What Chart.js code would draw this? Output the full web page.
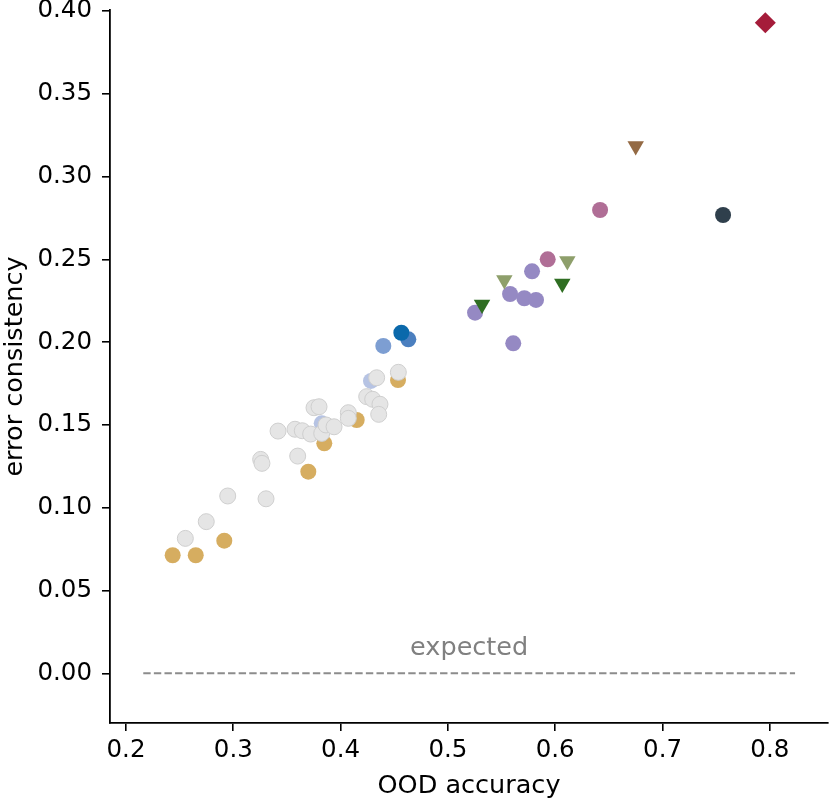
<!DOCTYPE html>
<html>
<head>
<meta charset="utf-8">
<script src="https://cdn.jsdelivr.net/npm/chart.js@4.4.1/dist/chart.umd.min.js"></script>
<style>
  html, body { margin: 0; padding: 0; background: #fff; overflow: hidden; }
  #chart { display: block; }
</style>
</head>
<body>
<canvas id="chart" width="830" height="802"></canvas>
<script>
// tick values on both axes
var xTicks = [0.2, 0.3, 0.4, 0.5, 0.6, 0.7, 0.8];
var yTicks = [0.00, 0.05, 0.10, 0.15, 0.20, 0.25, 0.30, 0.35, 0.40];

// model groups: OOD accuracy (x) and error consistency (y)
var goldX = [0.2435, 0.2650, 0.2916, 0.3699, 0.3848, 0.4150, 0.4535];
var goldY = [0.0713, 0.0713, 0.0801, 0.1218, 0.1389, 0.1530, 0.1771];

var grayX = [0.2553, 0.2748, 0.2948, 0.3305, 0.3255, 0.3267, 0.3417, 0.3600, 0.3575, 0.3643, 0.3721, 0.3824,
             0.3864, 0.3939, 0.3752, 0.3799, 0.4072, 0.4072, 0.4243, 0.4299, 0.4367, 0.4355, 0.4336, 0.4538];
var grayY = [0.0815, 0.0916, 0.1071, 0.1054, 0.1292, 0.1268, 0.1463, 0.1312, 0.1474, 0.1465, 0.1445, 0.1449,
             0.1500, 0.1489, 0.1604, 0.1610, 0.1574, 0.1540, 0.1671, 0.1655, 0.1625, 0.1564, 0.1785, 0.1818];

var paleBlueX = [0.4283, 0.3824];
var paleBlueY = [0.1766, 0.1510];
var lightBlueX = [0.4398];
var lightBlueY = [0.1977];
var midBlueX = [0.4631];
var midBlueY = [0.2017];
var darkBlueX = [0.4566];
var darkBlueY = [0.2057];

var purpleX = [0.5253, 0.5579, 0.5712, 0.5821, 0.5784, 0.5609];
var purpleY = [0.2178, 0.2291, 0.2265, 0.2255, 0.2428, 0.1993];
var pinkX = [0.5930, 0.6418];
var pinkY = [0.2500, 0.2798];

var oliveX = [0.6113, 0.5526];
var oliveY = [0.2490, 0.2375];
var greenX = [0.6066, 0.5318];
var greenY = [0.2355, 0.2228];
var brownX = [0.6750];
var brownY = [0.3185];

var slateX = [0.7564];
var slateY = [0.2768];
var humanX = [0.7958];
var humanY = [0.3929];

// "expected" reference line
var expectedX = [0.2161, 0.8235];
var expectedY = [0.0, 0.0];
var expectedText = 'expected';

function pts(xs, ys) {
    var out = [];
    for (var i = 0; i < xs.length; i++) out.push({ x: xs[i], y: ys[i] });
    return out;
}

function group(xs, ys, color, style, radius, edge) {
    return {
        data: pts(xs, ys),
        backgroundColor: color,
        borderColor: edge || color,
        borderWidth: edge ? 1 : 0,
        pointStyle: style,
        pointRadius: radius,
        pointRotation: style === 'triangle' ? 180 : 0,
        pointHoverRadius: radius
    };
}

var FONT = "'DejaVu Sans', sans-serif";

// first dataset is drawn on top
var datasets = [
    group(humanX, humanY, '#a51c3a', 'rectRot', 10.5),
    group(slateX, slateY, '#2f3f4c', 'circle', 8),
    group(brownX, brownY, '#946a44', 'triangle', 9.5),
    group(greenX, greenY, '#2f6e22', 'triangle', 9.5),
    group(oliveX, oliveY, '#8e9f6b', 'triangle', 9.5),
    group(pinkX, pinkY, '#b06e96', 'circle', 8),
    group(purpleX, purpleY, '#9589c3', 'circle', 8),
    group(darkBlueX, darkBlueY, '#0b69ab', 'circle', 8),
    group(midBlueX, midBlueY, '#4b7fbf', 'circle', 8),
    group(lightBlueX, lightBlueY, '#7d9ed2', 'circle', 8),
    group(grayX, grayY, '#e5e5e5', 'circle', 8, '#cfcfcf'),
    group(paleBlueX, paleBlueY, '#b6c3e3', 'circle', 8),
    group(goldX, goldY, '#d6ad60', 'circle', 8),
    {
        type: 'line',
        data: pts(expectedX, expectedY),
        borderColor: '#8c8c8c',
        borderWidth: 2,
        borderDash: [7.4, 3.2],
        pointRadius: 0,
        fill: false
    }
];

new Chart(document.getElementById('chart'), {
    type: 'scatter',
    data: { datasets: datasets },
    options: {
        responsive: false,
        animation: false,
        devicePixelRatio: 1,
        // no extra room for the markers, the axes sit where they are told
        layout: { autoPadding: false, padding: { top: 10, right: 2, left: 0, bottom: 0 } },
        plugins: {
            legend: { display: false },
            tooltip: { enabled: false }
        },
        scales: {
            x: {
                type: 'linear',
                min: 0.1851,
                max: 0.8542,
                afterBuildTicks: function (scale) {
                    scale.ticks = xTicks.map(function (v) { return { value: v }; });
                },
                afterFit: function (scale) {
                    scale.height = 79;
                    scale.paddingLeft = 0;
                    scale.paddingRight = 0;
                },
                grid: { drawOnChartArea: false, drawTicks: true, tickLength: 8, color: '#000', lineWidth: 1.6 },
                border: { color: '#000', width: 1.8 },
                ticks: {
                    color: '#000',
                    padding: 5,
                    maxRotation: 0,
                    font: { family: FONT, size: 24.5 },
                    callback: function (v) { return v.toFixed(1); }
                },
                title: {
                    display: true,
                    text: 'OOD accuracy',
                    color: '#000',
                    font: { family: FONT, size: 25.5 },
                    padding: { top: 0, bottom: 0 }
                }
            },
            y: {
                type: 'linear',
                min: -0.0300,
                max: 0.4006,
                afterBuildTicks: function (scale) {
                    scale.ticks = yTicks.map(function (v) { return { value: v }; });
                },
                afterFit: function (scale) {
                    scale.width = 110;
                    scale.paddingTop = 0;
                    scale.paddingBottom = 0;
                },
                grid: { drawOnChartArea: false, drawTicks: true, tickLength: 8, color: '#000', lineWidth: 1.6 },
                border: { color: '#000', width: 1.8 },
                ticks: {
                    color: '#000',
                    padding: 10,
                    font: { family: FONT, size: 24.5 },
                    callback: function (v) { return v.toFixed(2); }
                },
                title: {
                    display: true,
                    text: 'error consistency',
                    color: '#000',
                    font: { family: FONT, size: 25.5 },
                    padding: { top: 0, bottom: 0 }
                }
            }
        }
    },
    plugins: [{
        id: 'expectedLabel',
        afterDatasetsDraw: function (chart) {
            var ctx = chart.ctx;
            var xs = chart.scales.x, ys = chart.scales.y;
            var cx = xs.getPixelForValue((expectedX[0] + expectedX[1]) / 2);
            var cy = ys.getPixelForValue(expectedY[0]) - 25;
            ctx.save();
            ctx.font = '25.5px ' + FONT;
            ctx.fillStyle = '#808080';
            ctx.textAlign = 'center';
            ctx.textBaseline = 'middle';
            ctx.fillText(expectedText, cx, cy);
            ctx.restore();
        }
    }]
});
</script>
</body>
</html>
